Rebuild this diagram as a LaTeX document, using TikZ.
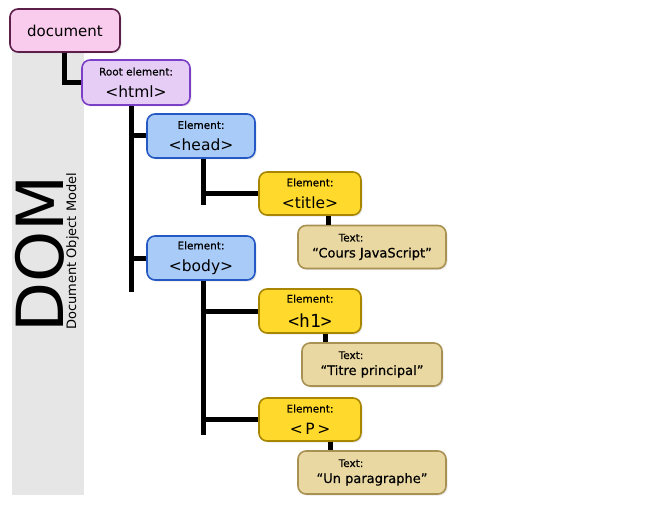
\documentclass[tikz,border=0pt]{standalone}
\usepackage{fontspec}
\setmainfont{DejaVu Sans}
\newfontfamily\monof{DejaVu Sans Mono}
\newfontfamily\semib[FakeBold=0.5]{DejaVu Sans}
\usetikzlibrary{calc,shadows}
\definecolor{pinkf}{HTML}{F9CBEC}
\definecolor{pinkd}{HTML}{5C1F4A}
\definecolor{lavf}{HTML}{E6CDF6}
\definecolor{lavd}{HTML}{7A3FC6}
\definecolor{bluef}{HTML}{A9CBF7}
\definecolor{blued}{HTML}{2458C2}
\definecolor{yelf}{HTML}{FFD92C}
\definecolor{yeld}{HTML}{A98600}
\definecolor{tanf}{HTML}{E9D8A2}
\definecolor{tand}{HTML}{A89152}
\definecolor{band}{HTML}{E6E6E6}
\tikzset{
  box/.style={rounded corners=8pt, line width=1.6pt, inner sep=0pt, align=center,
    drop shadow={opacity=0.18, shadow xshift=1.5pt, shadow yshift=-1.5pt}},
  docbox/.style={box, fill=pinkf, draw=pinkd, minimum width=110pt, minimum height=43pt, font=\fontsize{15}{17}\selectfont},
  htmlbox/.style={box, fill=lavf, draw=lavd, minimum width=108pt, minimum height=45pt},
  bluebox/.style={box, fill=bluef, draw=blued, minimum width=108pt, minimum height=44pt},
  yelbox/.style={box, fill=yelf, draw=yeld, minimum width=102pt, minimum height=43pt},
  tanbox/.style={box, fill=tanf, draw=tand, minimum height=43pt},
  conn/.style={line width=5pt, black},
}
\newcommand{\twol}[2]{{\semib\fontsize{10.5}{11}\selectfont #1}\\[10pt]{\fontsize{15.5}{16}\selectfont #2}}
\newcommand{\twot}[2]{\hspace*{-42pt}{\semib\fontsize{10.5}{11}\selectfont #1}\\[4pt]{\semib\fontsize{13}{14}\selectfont #2}}
\begin{document}
\begin{tikzpicture}[x=1pt,y=-1pt]
\useasboundingbox (0,0) rectangle (647,505);
\fill[band] (12,50) rectangle (84,495);
\node[rotate=90, anchor=south west, inner sep=0pt, font=\fontsize{65}{65}\selectfont] (dom) at (65,333) {DOM};
\node[rotate=90, anchor=south west, inner sep=0pt, font=\fontsize{13}{13}\selectfont] (dommodel) at (79,330) {Document Object Model};

\node[docbox] (document) at (65,30.5) {document};
\node[htmlbox] (html) at (136,82.5) {\twol{Root element:}{<html>}};
\node[bluebox] (head) at (201,136) {\twol{Element:}{<head>}};
\node[bluebox] (body) at (201,258) {\twol{Element:}{<body>}};
\node[yelbox] (title) at (310,193.5) {\twol{Element:}{<title>}};
\node[tanbox, minimum width=148pt] (t1) at (372,247) {\twot{Text:}{“Cours JavaScript”}};
\node[yelbox, minimum height=44pt] (h1) at (310,311) {\twol{Element:}{\monof\fontsize{18}{18}\selectfont <h1>}};
\node[tanbox, minimum width=140pt] (t2) at (372,364.5) {\twot{Text:}{“Titre principal”}};
\node[yelbox] (p) at (310,419.5) {\twol{Element:}{<\,P\,>}};
\node[tanbox, minimum width=148pt] (t3) at (372,472.5) {\twot{Text:}{“Un paragraphe”}};

\coordinate (v1end) at (131,292);
\coordinate (v2end) at (203,205);
\coordinate (v3end) at (203,435);

\draw[conn] ([xshift=-1pt]document.south) |- (html.west);
\draw[conn] ([xshift=-5pt]html.south) -- (v1end);
\draw[conn] (v1end |- head.west) -- (head.west);
\draw[conn] (v1end |- body.west) -- (body.west);
\draw[conn] ([xshift=2pt]head.south) -- (v2end);
\draw[conn] (v2end |- title.west) -- (title.west);
\draw[conn] ([xshift=18pt]title.south) -- ([xshift=18pt]title.south |- t1.north);
\draw[conn] ([xshift=2pt]body.south) -- (v3end);
\draw[conn] (v3end |- h1.west) -- (h1.west);
\draw[conn] (v3end |- p.west) -- (p.west);
\draw[conn] ([xshift=15pt]h1.south) -- ([xshift=15pt]h1.south |- t2.north);
\draw[conn] ([xshift=20pt]p.south) -- ([xshift=20pt]p.south |- t3.north);
\end{tikzpicture}
\end{document}
